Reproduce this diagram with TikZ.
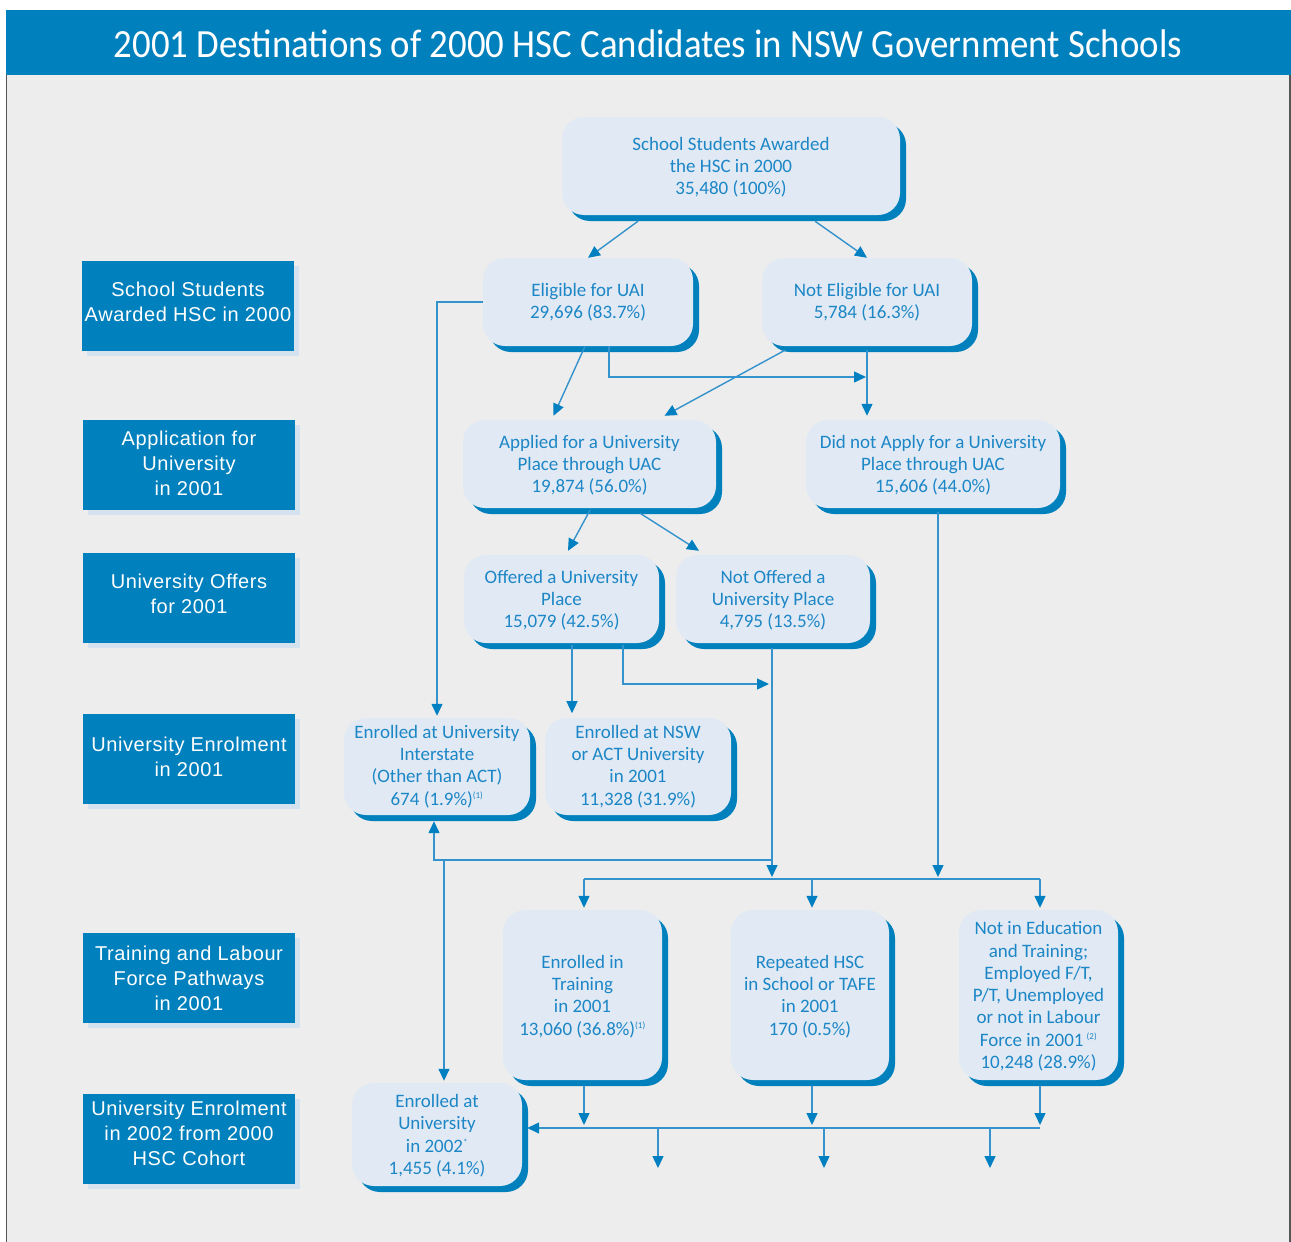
\documentclass[tikz,border=0pt]{standalone}
\usepackage{fontspec}
\setmainfont{Carlito}
\newfontfamily\titlefont[FakeStretch=0.92]{Carlito}
\newfontfamily\stagefont[LetterSpace=3]{Liberation Sans}
\usetikzlibrary{arrows.meta,calc,shadows}

\definecolor{titleblue}{RGB}{0,128,188}
\definecolor{boxfill}{RGB}{225,234,244}
\definecolor{boxtext}{RGB}{28,134,198}
\definecolor{stageshadow}{RGB}{211,226,238}
\definecolor{pagebg}{RGB}{237,237,237}
\definecolor{framegray}{RGB}{85,85,85}
\definecolor{linkblue}{RGB}{52,146,204}
\definecolor{arrowblue}{RGB}{0,128,192}

\newcommand\fnmark[1]{\textsuperscript{\fontsize{9}{9}\selectfont #1}}

\tikzset{
  flow/.style={rectangle, rounded corners=22pt, fill=boxfill, text=boxtext,
    align=center, inner sep=0pt, font=\fontsize{19}{22.3}\selectfont,
    drop shadow={shadow xshift=6pt, shadow yshift=-6pt, fill=titleblue, opacity=1}},
  lowtext/.style={text depth=0pt},
  stage/.style={rectangle, fill=titleblue, text=white, align=center, inner sep=0pt,
    minimum width=212pt, minimum height=90pt, text depth=8pt,
    font=\stagefont\fontsize{20}{25}\selectfont,
    drop shadow={shadow xshift=5pt, shadow yshift=-5pt, fill=stageshadow, opacity=1}},
  link/.style={draw=linkblue, line width=1.4pt},
  conn/.style={link, -{Triangle[length=12pt,width=11pt,color=arrowblue]}},
}

\begin{document}
\begin{tikzpicture}[x=1pt,y=-1pt]
\useasboundingbox (0,0) rectangle (1291,1242);
% page, frame and title bar
\fill[white] (0,0) rectangle (1291,1242);
\fill[pagebg] (6,10) rectangle (1291,1242);
\draw[framegray, line width=1.5pt] (6.5,10) -- (6.5,1242);
\draw[framegray, line width=1.5pt] (1290,10) -- (1290,1242);
\fill[titleblue] (6,10) rectangle (1291,75);
\node[font=\titlefont\fontsize{40}{40}\selectfont, text=white] (title) at (648,44)
  {2001 Destinations of 2000 HSC Candidates in NSW Government Schools};

% stage labels down the left side
\node[stage] (s1) at (188,306) {School Students\\Awarded HSC in 2000};
\node[stage, text depth=2pt] (s2) at (189,464.5) {Application for\\University\\in 2001};
\node[stage] (s3) at (189,598) {University Offers\\for 2001};
\node[stage, text depth=4pt] (s4) at (189,759) {University Enrolment\\in 2001};
\node[stage, text depth=0pt] (s5) at (189,978) {Training and Labour\\Force Pathways\\in 2001};
\node[stage, text depth=11pt] (s6) at (189,1139) {University Enrolment\\in 2002 from 2000\\HSC Cohort};

% destination boxes
\node[flow, lowtext, minimum width=338pt, minimum height=98pt] (A) at (731,166)
  {School Students Awarded\\the HSC in 2000\\35,480 (100\%)};
\node[flow, minimum width=210pt, minimum height=88pt] (B) at (588,302)
  {Eligible for UAI\\29,696 (83.7\%)};
\node[flow, minimum width=210pt, minimum height=88pt] (C) at (867,302)
  {Not Eligible for UAI\\5,784 (16.3\%)};
\node[flow, lowtext, minimum width=253pt, minimum height=88pt] (D) at (589.5,464)
  {Applied for a University\\Place through UAC\\19,874 (56.0\%)};
\node[flow, lowtext, minimum width=254pt, minimum height=88pt] (E) at (933,464)
  {Did not Apply for a University\\Place through UAC\\15,606 (44.0\%)};
\node[flow, lowtext, minimum width=195pt, minimum height=88pt] (F) at (561.5,599)
  {Offered a University\\Place\\15,079 (42.5\%)};
\node[flow, lowtext, minimum width=194pt, minimum height=88pt] (G) at (773,599)
  {Not Offered a\\University Place\\4,795 (13.5\%)};
\node[flow, minimum width=186pt, minimum height=97pt] (H) at (437,766.5)
  {Enrolled at University\\Interstate\\(Other than ACT)\\674 (1.9\%)\fnmark{(1)}};
\node[flow, minimum width=186pt, minimum height=97pt] (I) at (638,766.5)
  {Enrolled at NSW\\or ACT University\\in 2001\\11,328 (31.9\%)};
\node[flow, lowtext, minimum width=159pt, minimum height=170pt] (J) at (582.5,995)
  {Enrolled in\\Training\\in 2001\\13,060 (36.8\%)\fnmark{(1)}};
\node[flow, lowtext, minimum width=158pt, minimum height=170pt] (K) at (810,995)
  {Repeated HSC\\in School or TAFE\\in 2001\\170 (0.5\%)};
\node[flow, lowtext, minimum width=159pt, minimum height=170pt] (L) at (1038.5,995)
  {Not in Education\\and Training;\\Employed F/T,\\P/T, Unemployed\\or not in Labour\\Force in 2001\,\fnmark{(2)}\\10,248 (28.9\%)};
\node[flow, lowtext, minimum width=170pt, minimum height=103pt] (M) at (437,1134.5)
  {Enrolled at\\University\\in 2002\fnmark{*}\\1,455 (4.1\%)};

% junction points of the connectors
\coordinate (cE) at (866,377);
\coordinate (jOffer) at (769,684);
\coordinate (jG) at (772,877);
\coordinate (jUni) at (772,860);
\coordinate (jM) at (444,860);
\coordinate (jE) at (938,877);
\coordinate (busL) at (584,879);
\coordinate (busR) at (1040,879);
\coordinate (busK) at (812,879);
\coordinate (lowR) at (1040,1128);
\coordinate (lowJ) at (584,1125);
\coordinate (lowK) at (812,1125);
\coordinate (lowL) at (1040,1125);
\coordinate (out1) at (658,1128);
\coordinate (out2) at (824,1128);
\coordinate (out3) at (990,1128);
\coordinate (end1) at (658,1168);
\coordinate (end2) at (824,1168);
\coordinate (end3) at (990,1168);

% connectors
\draw[conn] ($(A.south)+(-93,6)$) -- (B.north);
\draw[conn] ($(A.south)+(84,6)$) -- (C.north);
\draw[conn] ($(B.south)+(-3,0)$) -- ($(D.north)+(-36,-4)$);
\draw[conn] ($(C.south)+(-82,4)$) -- ($(D.north)+(75,-4)$);
\draw[conn] ($(B.south)+(21,0)$) |- (cE);
\draw[conn] ($(C.south)+(0,4)$) -- ($(C.south |- E.north)+(0,-4)$);
\draw[conn] (B.west) -| ($(H.north)+(0,-2)$);
\draw[conn] ($(D.south)+(0.5,2)$) -- ($(F.north)+(6.5,-4)$);
\draw[conn] ($(D.south)+(50.5,5)$) -- ($(G.north)+(-74,-4)$);
\draw[conn] ($(F.south)+(10.5,2)$) -- ($(F.south)+(10.5,70)$);
\draw[conn] ($(F.south)+(61.5,2)$) |- (jOffer);
\draw[conn] ($(G.south)+(-1,5)$) -- (jG);
\draw[conn] (jUni) -| ($(H.south)+(-3,6)$);
\draw[conn] (jM) -- ($(M.north)+(7,-2)$);
\draw[conn] ($(E.south)+(5,4)$) -- (jE);
\draw[link] (busL) -- (busR);
\draw[conn] (busL) -- ($(J.north)+(1.5,-2)$);
\draw[conn] (busK) -- ($(K.north)+(2,-2)$);
\draw[conn] (busR) -- ($(L.north)+(1.5,-2)$);
\draw[conn] ($(J.south)+(1.5,6)$) -- (lowJ);
\draw[conn] ($(K.south)+(2,6)$) -- (lowK);
\draw[conn] ($(L.south)+(1.5,6)$) -- (lowL);
\draw[conn] (lowR) -- ($(M.east)+(5,-6.5)$);
\draw[conn] (out1) -- (end1);
\draw[conn] (out2) -- (end2);
\draw[conn] (out3) -- (end3);
\end{tikzpicture}
\end{document}
